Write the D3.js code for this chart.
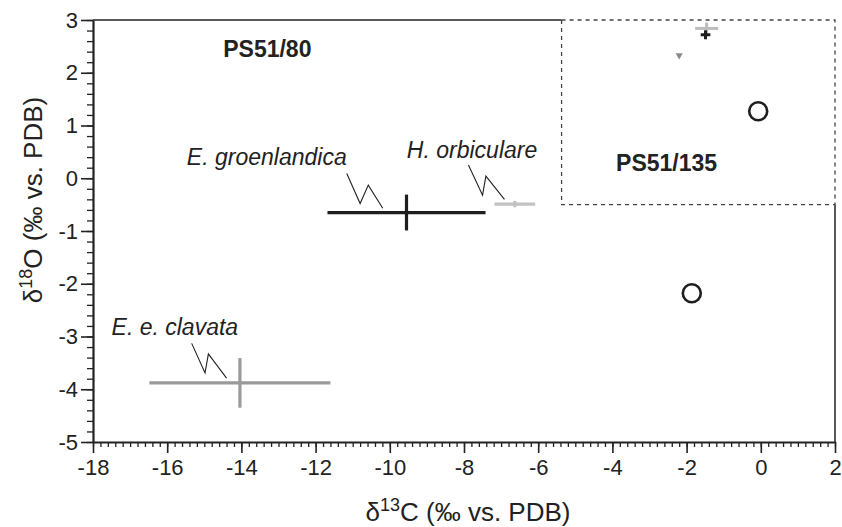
<!DOCTYPE html>
<html>
<head>
<meta charset="utf-8">
<script src="https://cdn.jsdelivr.net/npm/d3@7"></script>
<style>
  body { margin: 0; background: #fff; }
  text { font-family: "Liberation Sans", Arial, Helvetica, sans-serif; fill: #222; }
  .axis path, .axis line { stroke: #222; }
  .axis text { font-size: 22px; fill: #222; }
  .axis_label { font-size: 26px; }
  .core { font-size: 23px; font-weight: bold; }
  .species { font-size: 23px; font-style: italic; }
</style>
</head>
<body>
<script>
var margin = {top: 20, bottom: 85, left: 93, right: 7};
var width = 842 - margin.left - margin.right;
var height = 527 - margin.top - margin.bottom;

// foraminifera species means, PS51/80
var species = ["E. e. clavata", "E. groenlandica", "H. orbiculare"];
var d13C = [-14.04, -9.55, -6.63];
var d13CErr = [2.44, 2.13, 0.55];
var d18O = [-3.88, -0.65, -0.49];
var d18OErr = [0.47, 0.34, 0.06];
var speciesColors = ["#9a9a9a", "#1e1e1e", "#c2c2c2"];

// label anchor (x, y) and zigzag leader points
var labelX = [-17.5, -15.47, -9.54];
var labelY = [-2.97, 0.25, 0.38];
var leaders = [
  [[-15.34, -3.13], [-14.98, -3.69], [-14.89, -3.33], [-14.40, -3.79]],
  [[-11.16, 0.09], [-10.80, -0.48], [-10.58, -0.13], [-10.19, -0.57]],
  [[-7.88, 0.25], [-7.50, -0.32], [-7.41, 0.04], [-6.91, -0.40]]
];

// PS51/135 samples
var crossX = [-1.46, -1.49];
var crossY = [2.84, 2.72];
var crossXErr = [0.31, 0.13];
var crossYErr = [0.11, 0.085];
var crossColors = ["#bdbdbd", "#1e1e1e"];
var triX = [-2.2];
var triY = [2.33];
var circleX = [-1.86, -0.07];
var circleY = [-2.18, 1.27];

// core labels and PS51/135 box
var cores = ["PS51/80", "PS51/135"];
var coreX = [-14.49, -3.9];
var coreY = [2.30, 0.14];
var boxX = [-5.37, 2];
var boxY = [-0.5, 3];

var xTicks = [-18, -16, -14, -12, -10, -8, -6, -4, -2, 0, 2];
var yTicks = [-5, -4, -3, -2, -1, 0, 1, 2, 3];

var svg = d3.select("body")
  .append("svg")
  .attr("width", 842)
  .attr("height", 527);

var g = svg.append("g")
  .attr("transform", "translate(" + margin.left + "," + margin.top + ")");

var xScale = d3.scaleLinear().domain([-18, 2]).range([0, width]);
var yScale = d3.scaleLinear().domain([-5, 3]).range([height, 0]);

// minor ticks
var xMinor = d3.range(-18, 2.001, 0.2).map(function(v){ return +v.toFixed(1); });
var yMinor = d3.range(-5, 3.001, 0.2).map(function(v){ return +v.toFixed(1); });

g.append("g")
  .attr("class", "axis")
  .attr("transform", "translate(0," + height + ")")
  .call(d3.axisBottom(xScale).tickValues(xMinor).tickSize(5).tickFormat(""))
  .call(function(a){ a.select(".domain").remove(); a.selectAll("line").attr("stroke-width", 1.3); });

g.append("g")
  .attr("class", "axis")
  .call(d3.axisLeft(yScale).tickValues(yMinor).tickSize(6).tickFormat(""))
  .call(function(a){ a.select(".domain").remove(); a.selectAll("line").attr("stroke-width", 1.3); });

// X axis (plain hyphen for minus, as in the original)
g.append("g")
  .attr("class", "axis")
  .attr("transform", "translate(0," + height + ")")
  .call(d3.axisBottom(xScale).tickValues(xTicks).tickSize(11).tickSizeOuter(0).tickPadding(6)
    .tickFormat(function(d){ return String(d); }))
  .call(function(a){
    a.select(".domain").attr("stroke-width", 2.2);
    a.selectAll(".tick line").attr("stroke-width", 1.6);
  });

// Y axis
g.append("g")
  .attr("class", "axis")
  .call(d3.axisLeft(yScale).tickValues(yTicks).tickSize(12).tickSizeOuter(0).tickPadding(3)
    .tickFormat(function(d){ return String(d); }))
  .call(function(a){
    a.select(".domain").attr("stroke-width", 2.2);
    a.selectAll(".tick line").attr("stroke-width", 1.6);
  });

// frame (top and right), left open where the dashed box sits
g.append("line")
  .attr("x1", 0).attr("x2", xScale(boxX[0]))
  .attr("y1", 0).attr("y2", 0)
  .attr("stroke", "#222").attr("stroke-width", 1.5);
g.append("line")
  .attr("x1", width).attr("x2", width)
  .attr("y1", yScale(boxY[0])).attr("y2", height)
  .attr("stroke", "#222").attr("stroke-width", 1.5);

// dashed box PS51/135
g.append("rect")
  .attr("x", xScale(boxX[0]))
  .attr("y", yScale(boxY[1]))
  .attr("width", xScale(boxX[1]) - xScale(boxX[0]))
  .attr("height", yScale(boxY[0]) - yScale(boxY[1]))
  .attr("fill", "none")
  .attr("stroke", "#444")
  .attr("stroke-width", 1.3)
  .attr("stroke-dasharray", "4,4");

// axis labels
svg.append("text")
  .attr("class", "axis_label")
  .attr("x", 468).attr("y", 521)
  .attr("text-anchor", "middle")
  .html("δ<tspan dy='-10' font-size='18'>13</tspan><tspan dy='10'>C (‰ vs. PDB)</tspan>");

svg.append("text")
  .attr("class", "axis_label")
  .attr("transform", "translate(42,200) rotate(-90)")
  .attr("text-anchor", "middle")
  .html("δ<tspan dy='-10' font-size='18'>18</tspan><tspan dy='10'>O (‰ vs. PDB)</tspan>");

// species error bars
var sp = g.selectAll(".sp")
  .data(species)
  .enter().append("g")
  .attr("class", "sp");

sp.append("line")
  .attr("x1", function(d, i){ return xScale(d13C[i] - d13CErr[i]); })
  .attr("x2", function(d, i){ return xScale(d13C[i] + d13CErr[i]); })
  .attr("y1", function(d, i){ return yScale(d18O[i]); })
  .attr("y2", function(d, i){ return yScale(d18O[i]); })
  .attr("stroke", function(d, i){ return speciesColors[i]; })
  .attr("stroke-width", 3.2);

sp.append("line")
  .attr("x1", function(d, i){ return xScale(d13C[i]); })
  .attr("x2", function(d, i){ return xScale(d13C[i]); })
  .attr("y1", function(d, i){ return yScale(d18O[i] + d18OErr[i]); })
  .attr("y2", function(d, i){ return yScale(d18O[i] - d18OErr[i]); })
  .attr("stroke", function(d, i){ return speciesColors[i]; })
  .attr("stroke-width", 3.2);

sp.append("path")
  .attr("d", function(d, i){
    return d3.line().x(function(p){ return xScale(p[0]); }).y(function(p){ return yScale(p[1]); })(leaders[i]);
  })
  .attr("fill", "none")
  .attr("stroke", "#222")
  .attr("stroke-width", 1.1);

sp.append("text")
  .attr("class", "species")
  .attr("x", function(d, i){ return xScale(labelX[i]); })
  .attr("y", function(d, i){ return yScale(labelY[i]); })
  .text(function(d){ return d; });

// PS51/135 crosses
var cr = g.selectAll(".cross")
  .data(crossX)
  .enter().append("g")
  .attr("class", "cross");

cr.append("line")
  .attr("x1", function(d, i){ return xScale(d - crossXErr[i]); })
  .attr("x2", function(d, i){ return xScale(d + crossXErr[i]); })
  .attr("y1", function(d, i){ return yScale(crossY[i]); })
  .attr("y2", function(d, i){ return yScale(crossY[i]); })
  .attr("stroke", function(d, i){ return crossColors[i]; })
  .attr("stroke-width", 3);

cr.append("line")
  .attr("x1", function(d){ return xScale(d); })
  .attr("x2", function(d){ return xScale(d); })
  .attr("y1", function(d, i){ return yScale(crossY[i] + crossYErr[i]); })
  .attr("y2", function(d, i){ return yScale(crossY[i] - crossYErr[i]); })
  .attr("stroke", function(d, i){ return crossColors[i]; })
  .attr("stroke-width", 3);

g.selectAll(".tri")
  .data(triX)
  .enter().append("path")
  .attr("class", "tri")
  .attr("transform", function(d, i){ return "translate(" + xScale(d) + "," + yScale(triY[i]) + ") rotate(180)"; })
  .attr("d", d3.symbol().type(d3.symbolTriangle).size(22))
  .attr("fill", "#8a8a8a");

g.selectAll(".circ")
  .data(circleX)
  .enter().append("circle")
  .attr("class", "circ")
  .attr("cx", function(d){ return xScale(d); })
  .attr("cy", function(d, i){ return yScale(circleY[i]); })
  .attr("r", 9)
  .attr("fill", "none")
  .attr("stroke", "#1e1e1e")
  .attr("stroke-width", 2.6);

// core labels
g.selectAll(".core")
  .data(cores)
  .enter().append("text")
  .attr("class", "core")
  .attr("x", function(d, i){ return xScale(coreX[i]); })
  .attr("y", function(d, i){ return yScale(coreY[i]); })
  .text(function(d){ return d; });
</script>
</body>
</html>
